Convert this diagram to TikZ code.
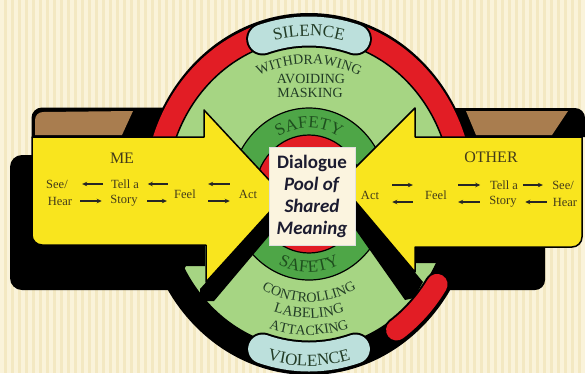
\documentclass[tikz,border=0pt]{standalone}
\usepackage{fontspec}
\setmainfont{Liberation Serif}
\newfontfamily\boxfont{Carlito}
\usetikzlibrary{calc,decorations.text,arrows.meta}

\definecolor{bgcream}{HTML}{F3E8C2}
\definecolor{bgstripe}{HTML}{FAF3DA}
\definecolor{ringred}{HTML}{E21D25}
\definecolor{lightgreen}{HTML}{A6D583}
\definecolor{darkgreen}{HTML}{4EA647}
\definecolor{capsule}{HTML}{BCE0DC}
\definecolor{bannery}{HTML}{F9E51E}
\definecolor{tubebrown}{HTML}{A97D4F}
\definecolor{ringtext}{HTML}{223C26}
\definecolor{safetext}{HTML}{1E4F1E}
\definecolor{bantext}{HTML}{433B1A}
\definecolor{boxfill}{HTML}{FBF4DF}
\definecolor{boxtext}{HTML}{1C1C30}

\tikzset{
  ringarc/.style 2 args={decorate, decoration={text along path, text align=center,
      text={|\color{ringtext}\fontsize{#1}{#1}\selectfont|#2}}},
  safearc/.style={decorate, decoration={text along path, text align=center,
      text={|\color{safetext}\fontsize{17}{17}\selectfont|#1}}},
  ringword/.style={text=ringtext, inner sep=0pt, font=\fontsize{14}{14}\selectfont},
  bantxt/.style={text=bantext, inner sep=0pt, font=\fontsize{12.5}{13}\selectfont},
  banhead/.style={text=bantext, inner sep=0pt, font=\fontsize{16}{16}\selectfont},
  sarrow/.style={-{Stealth[length=5pt,width=4.5pt]}, line width=1.3pt, draw=black!85},
  banner/.style={fill=bannery, draw=black, line width=1.5pt, line join=round},
  capsuleline/.style={line width=#1, line cap=round},
}

\begin{document}
\begin{tikzpicture}[x=1pt,y=1pt]
\useasboundingbox (0,0) rectangle (585,-373);
\coordinate (C) at (309,-194);

% striped paper background
\fill[bgcream] (0,0) rectangle (585,-373);
\foreach \i in {0,7,...,581} \fill[bgstripe] (\i,0) rectangle ++(3.5,-373);

% rolled tops of the two banners
\filldraw[black, line width=1pt] (32,-137) -- (32,-118) arc[start angle=180,end angle=90,radius=10pt] -- (185,-108) -- (185,-137) -- cycle;
\fill[tubebrown] (35,-135) -- (35,-120) arc[start angle=180,end angle=90,radius=8pt] -- (133,-111) -- (122,-135) -- cycle;
\fill[black] (425,-108) -- (575,-108) arc[start angle=90,end angle=0,radius=10pt] -- (585,-137) -- (425,-137) -- cycle;
\fill[tubebrown] (466,-111) -- (568,-111) -- (552,-135) -- (476,-135) -- cycle;

% outer ring, green field, safety ring and pool
\fill[black] (C) ellipse[x radius=166.5pt, y radius=181pt];
\draw[ringred, line width=23pt] ($(C)+(-10:153.2 and 166.5)$) arc[start angle=-10,end angle=190,x radius=153.2pt,y radius=166.5pt];
\filldraw[fill=lightgreen, draw=black, line width=1.5pt] (C) ellipse[x radius=142.6pt, y radius=155pt];
\filldraw[fill=darkgreen, draw=black, line width=1.2pt] (C) ellipse[x radius=79pt, y radius=86pt];
\filldraw[fill=ringred, draw=black, line width=1.2pt] (C) ellipse[x radius=54.3pt, y radius=59pt];

% dark backs of the banners
\fill[black] (10,-278) -- (10,-167) arc[start angle=180,end angle=90,radius=12pt] -- (205,-155) -- (205,-266) -- (186,-266) -- (172,-290) -- (22,-290) arc[start angle=270,end angle=180,radius=12pt] -- cycle;
\fill[black] (405,-247) -- (545,-247) -- (545,-280) arc[start angle=0,end angle=-90,radius=10pt] -- (421,-290) -- (437,-263) -- (405,-263) -- cycle;

% shadow bands under the arrow heads
\fill[black] (200,-289) -- (284,-196) -- (295,-205) -- (214,-301) -- (200,-301) -- cycle;
\fill[black] (340,-183) -- (423,-282) -- (414,-298) -- (405,-300) -- (329,-192) -- cycle;

% capsules on the ring
\draw[black, capsuleline=33pt] ($(C)+(72:150 and 163)$) arc[start angle=72,end angle=108,x radius=150pt,y radius=163pt];
\draw[capsule, capsuleline=29pt] ($(C)+(72:150 and 163)$) arc[start angle=72,end angle=108,x radius=150pt,y radius=163pt];
\draw[black, capsuleline=33pt] ($(C)+(252:150 and 163)$) arc[start angle=252,end angle=288,x radius=150pt,y radius=163pt];
\draw[capsule, capsuleline=29pt] ($(C)+(252:150 and 163)$) arc[start angle=252,end angle=288,x radius=150pt,y radius=163pt];
\draw[black, capsuleline=25pt] ($(C)+(-33:152.7 and 166)$) arc[start angle=-33,end angle=-55,x radius=152.7pt,y radius=166pt];
\draw[ringred, capsuleline=21pt] ($(C)+(-33:152.7 and 166)$) arc[start angle=-33,end angle=-55,x radius=152.7pt,y radius=166pt];

% the two yellow arrows
\path[banner] (32,-235) -- (32,-137) -- (204,-137) -- (204,-110) -- (284,-196) -- (206,-282) -- (206,-245) -- (42,-245) arc[start angle=270,end angle=180,radius=10pt] -- cycle;
\path[banner] (582,-137) -- (415,-137) -- (415,-108) -- (340,-183) -- (415,-272) -- (415,-247) -- (572,-247) arc[start angle=270,end angle=360,radius=10pt] -- cycle;

% ring labels, upper half
\path[ringarc={17}{SILENCE}] ($(C)+(115:145.4 and 158)$) arc[start angle=115,end angle=65,x radius=145.4pt,y radius=158pt];
\path[ringarc={14}{WITHDRAWING}] ($(C)+(130:119.6 and 130)$) arc[start angle=130,end angle=50,x radius=119.6pt,y radius=130pt];
\node[ringword] (avoiding) at (311,-78.5) {AVOIDING};
\node[ringword] (masking) at (310,-93) {MASKING};
\path[safearc={SAFETY}] ($(C)+(150:60.7 and 66)$) arc[start angle=150,end angle=30,x radius=60.7pt,y radius=66pt];

% ring labels, lower half
\path[safearc={SAFETY}] ($(C)+(210:71.8 and 78)$) arc[start angle=210,end angle=330,x radius=71.8pt,y radius=78pt];
\path[ringarc={14}{CONTROLLING}] ($(C)+(215:99.4 and 108)$) arc[start angle=215,end angle=325,x radius=99.4pt,y radius=108pt];
\path[ringarc={14.5}{LABELING}] ($(C)+(230:114.1 and 124)$) arc[start angle=230,end angle=310,x radius=114.1pt,y radius=124pt];
\path[ringarc={14}{ATTACKING}] ($(C)+(235:129.7 and 141)$) arc[start angle=235,end angle=305,x radius=129.7pt,y radius=141pt];
\path[ringarc={17}{VIOLENCE}] ($(C)+(245:158.2 and 172)$) arc[start angle=245,end angle=295,x radius=158.2pt,y radius=172pt];

% left banner: ME
\node[banhead] (me) at (122,-158) {ME};
\node[bantxt] (seeL) at (57,-184) {See/};
\node[bantxt] (hearL) at (60,-201) {Hear};
\node[bantxt] (tellL) at (125,-184) {Tell a};
\node[bantxt] (storyL) at (124,-201) {Story};
\node[bantxt] (feelL) at (185,-194) {Feel};
\node[bantxt] (actL) at (248,-194) {Act};
\draw[sarrow, shorten <=7.6pt, shorten >=14.2pt] (tellL.west) -- (seeL.east);
\draw[sarrow, shorten <=8pt, shorten >=8.5pt] (hearL.east) -- (storyL.west);
\draw[sarrow, shorten <=6.2pt, shorten >=8.6pt] (feelL.west |- tellL.east) -- (tellL.east);
\draw[sarrow, shorten <=9.5pt, shorten >=7.2pt] (storyL.east) -- (feelL.west |- storyL.east);
\draw[sarrow, shorten <=9pt, shorten >=12.2pt] (actL.west |- tellL.east) -- (feelL.east |- tellL.east);
\draw[sarrow, shorten <=12.2pt, shorten >=9pt] (feelL.east |- storyL.east) -- (actL.west |- storyL.east);

% right banner: OTHER
\node[banhead] (other) at (491,-157) {OTHER};
\node[bantxt] (actR) at (370,-195) {Act};
\node[bantxt] (feelR) at (436,-195) {Feel};
\node[bantxt] (tellR) at (504,-185) {Tell a};
\node[bantxt] (storyR) at (503,-202) {Story};
\node[bantxt] (seeR) at (563,-185) {See/};
\node[bantxt] (hearR) at (565,-202) {Hear};
\draw[sarrow, shorten <=13pt, shorten >=12.2pt] (actR.east |- tellR.west) -- (feelR.west |- tellR.west);
\draw[sarrow, shorten <=12.2pt, shorten >=13pt] (feelR.west |- storyR.west) -- (actR.east |- storyR.west);
\draw[sarrow, shorten <=11.2pt, shorten >=9.6pt] (feelR.east |- tellR.west) -- (tellR.west);
\draw[sarrow, shorten <=9.5pt, shorten >=11.2pt] (storyR.west) -- (feelR.east |- storyR.west);
\draw[sarrow, shorten <=4.6pt, shorten >=9.2pt] (tellR.east) -- (seeR.west);
\draw[sarrow, shorten <=5.9pt, shorten >=8.5pt] (hearR.west) -- (storyR.east);

% pool of shared meaning
\node[draw=white!75!gray, line width=0.8pt, fill=boxfill, minimum width=86pt, minimum height=98pt,
      inner sep=0pt, align=center, text=boxtext, font=\boxfont\bfseries\fontsize{19}{22}\selectfont]
  (dialogue) at (312,-196) {Dialogue\\\textit{Pool of}\\\textit{Shared}\\\textit{Meaning}};
\end{tikzpicture}
\end{document}
